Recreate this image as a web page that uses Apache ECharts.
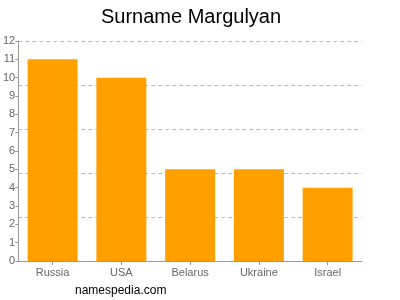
<!DOCTYPE html>
<html><head><meta charset="utf-8">
<script src="https://cdn.jsdelivr.net/npm/echarts@6/dist/echarts.min.js"></script>
<style>html,body{margin:0;padding:0;background:#fff}#c{width:400px;height:300px}</style>
</head><body><div id="c"></div>
<script>
var categories = ["Russia", "USA", "Belarus", "Ukraine", "Israel"];
var values = [11, 10, 5, 5, 4];
var yMax = 12;
var chart = echarts.init(document.getElementById('c'), null, {renderer: 'canvas'});
chart.setOption({
  animation: false,
  title: {text: 'Surname Margulyan', left: 96, top: 2, textStyle: {fontFamily: 'Liberation Sans, Arial', fontSize: 20, fontWeight: 'normal', color: '#000'}},
  graphic: [{type: 'text', left: 75, top: 285, style: {text: 'namespedia.com', font: '12px Liberation Sans, Arial', fill: '#000'}}],
  grid: {left: 17, right: 38, top: 41, bottom: 39, containLabel: false},
  xAxis: {type: 'category', data: categories,
    axisLine: {lineStyle: {color: '#999'}}, axisTick: {show: true, alignWithLabel: true, length: 4, lineStyle: {color: '#999'}},
    axisLabel: {color: '#666', fontSize: 11, fontFamily: 'Liberation Sans, Arial', margin: 6}},
  yAxis: [
    {type: 'value', min: 0, max: yMax, interval: 1,
      axisLine: {show: true, lineStyle: {color: '#999'}}, axisTick: {show: true, length: 3, lineStyle: {color: '#999'}},
      axisLabel: {color: '#666', fontSize: 11, fontFamily: 'Liberation Sans, Arial', margin: 3},
      splitLine: {show: false}},
    {type: 'value', min: 0, max: yMax, interval: 2.4, position: 'left',
      axisLine: {show: false}, axisTick: {show: false}, axisLabel: {show: false},
      splitLine: {show: true, lineStyle: {color: '#bbb', type: [4, 3], width: 1}}}
  ],
  series: [{type: 'bar', data: values, barWidth: 50, itemStyle: {color: '#FFA000'}}]
});
</script></body></html>
